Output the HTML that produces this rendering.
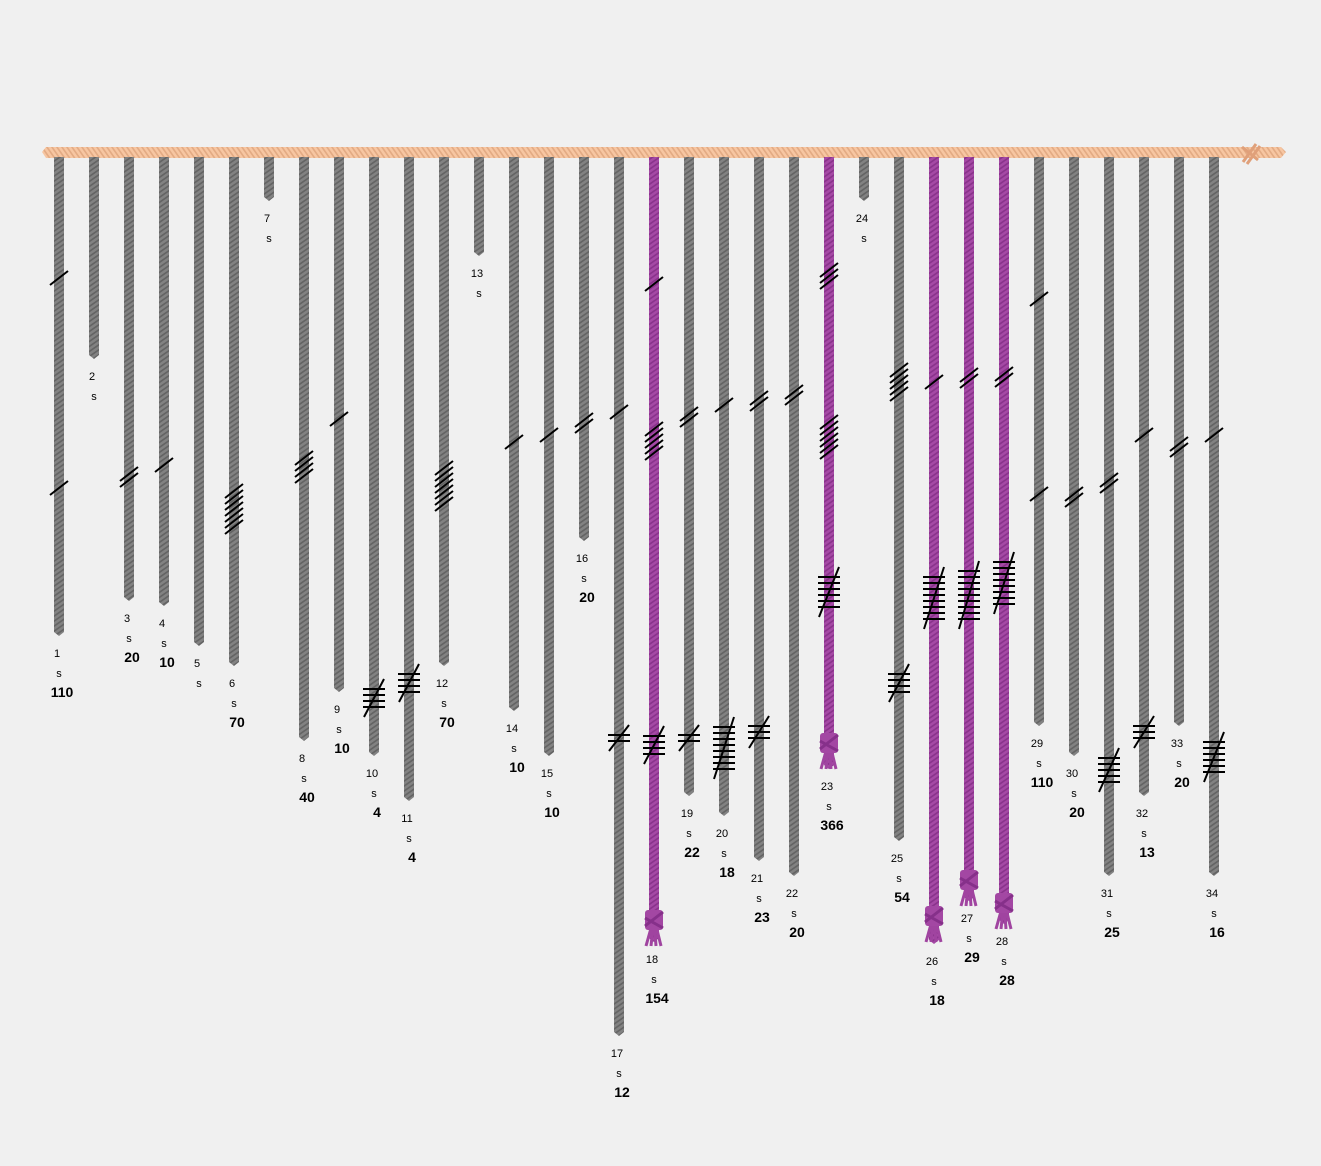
<!DOCTYPE html>
<html><head><meta charset="utf-8">
<style>
html,body{margin:0;padding:0;background:#f0f0f0;}
svg{display:block;font-family:"Liberation Sans",sans-serif;}
</style></head>
<body>
<svg id="chart" width="1321" height="1166" viewBox="0 0 1321 1166">
<defs>
<pattern id="pg" width="10" height="5" patternUnits="userSpaceOnUse" patternTransform="skewY(-35)">
<rect width="10" height="5" fill="#828282"/><rect y="3" width="10" height="2" fill="#646464"/></pattern>
<pattern id="pp" width="10" height="5" patternUnits="userSpaceOnUse" patternTransform="skewY(-35)">
<rect width="10" height="5" fill="#a549a5"/><rect y="3" width="10" height="2" fill="#8a338c"/></pattern>
<pattern id="ps" width="5" height="11" patternUnits="userSpaceOnUse" patternTransform="skewX(35)">
<rect width="5" height="11" fill="#f7c6a2"/><rect x="3" width="2" height="11" fill="#e3ab84"/></pattern>
</defs>
<path d="M42 152 L46 147 H1281 L1286 152 L1281 158 H46 Z" fill="url(#ps)"/>
<g stroke="#e0a07a" stroke-width="3">
<line x1="1243" y1="162" x2="1256" y2="144"/><line x1="1247" y1="164" x2="1260" y2="146"/><line x1="1242" y1="147" x2="1258" y2="160"/></g>
<g id="cords"></g>
</svg>
<script>
// cord end (bottom) positions, colours, values
const cordEnd = [632,355,597,602,642,662,197,737,688,752,797,662,252,707,752,537,1032,938,792,812,857,872,765,197,837,940,897,920,722,752,872,792,722,872];
const cordColor = ['g','g','g','g','g','g','g','g','g','g','g','g','g','g','g','g','g','p','g','g','g','g','p','g','g','p','p','p','g','g','g','g','g','g'];
const cordValue = ['110','','20','10','','70','','40','10','4','4','70','','10','10','20','12','154','22','18','23','20','366','','54','18','29','28','110','20','25','13','20','16'];
// knots: [y, type(s=single,l=long,e=figure-eight), count]
const cordKnots = [
[[278,'s',1],[488,'s',1]],[],[[477,'s',2]],[[465,'s',1]],[],[[509,'s',7]],[],[[467,'s',4]],[[419,'s',1]],[[698,'l',4]],
[[683,'l',4]],[[486,'s',7]],[],[[442,'s',1]],[[435,'s',1]],[[423,'s',2]],[[412,'s',1],[738,'l',2]],
[[284,'s',1],[441,'s',5],[745,'l',4],[922,'e',1]],[[417,'s',2],[738,'l',2]],[[405,'s',1],[748,'l',8]],[[401,'s',2],[732,'l',3]],
[[395,'s',2]],[[276,'s',3],[437,'s',6],[592,'l',6],[745,'e',1]],[],[[382,'s',5],[683,'l',4]],
[[382,'s',1],[598,'l',8],[918,'e',1]],[[378,'s',2],[595,'l',9],[882,'e',1]],[[377,'s',2],[583,'l',8],[905,'e',1]],
[[299,'s',1],[494,'s',1]],[[497,'s',2]],[[483,'s',2],[770,'l',5]],[[435,'s',1],[732,'l',3]],[[447,'s',2]],[[435,'s',1],[757,'l',6]]
];
const NS='http://www.w3.org/2000/svg';
const cordRoot=document.getElementById('cords');
function mk(t,a,p){const e=document.createElementNS(NS,t);for(const k in a)e.setAttribute(k,a[k]);(p||cordRoot).appendChild(e);return e;}
const xOf=i=>59+35*i, cordTop=157;
cordEnd.forEach((end,i)=>{
  const x=xOf(i), purple=cordColor[i]==='p';
  const g=mk('g',{});
  
  
  mk('path',{d:`M${x-5} ${cordTop}H${x+5}V${end}L${x} ${end+4}L${x-5} ${end}Z`,fill:purple?'url(#pp)':'url(#pg)'},g);
  cordKnots[i].forEach(([y,t,c])=>{
    const kg=mk('g',{stroke:'#000','stroke-width':2},g);
    
    
    if(t==='s'){
      for(let k=0;k<c;k++){const yy=y-(c-1)*3+k*6;mk('line',{x1:x-9,y1:yy+7,x2:x+9,y2:yy-7},kg);}
    }else if(t==='l'){
      const h=(c-1)*6;
      for(let k=0;k<c;k++){const yy=y-h/2+k*6;mk('line',{x1:x-11,y1:yy,x2:x+11,y2:yy},kg);}
      mk('line',{x1:x-10,y1:y+h/2+10,x2:x+10,y2:y-h/2-10},kg);
    }else{
      kg.setAttribute('stroke','#a044a0');kg.setAttribute('stroke-width',3);
      [-8,-3,2,7].forEach(d=>mk('line',{x1:x+d*0.3,y1:y+4,x2:x+d,y2:y+24},kg));
      mk('rect',{x:x-9,y:y-12,width:18,height:20,rx:3,fill:'#a347a3',stroke:'none'},kg);
      mk('line',{x1:x-9,y1:y+4,x2:x+9,y2:y-10,stroke:'#86308a'},kg);
      mk('line',{x1:x-9,y1:y-4,x2:x+9,y2:y+6,stroke:'#86308a'},kg);
    }
  });
  const ek=cordKnots[i].find(k=>k[1]==='e');
  const base=ek?Math.max(end,ek[0]+12):end;
  const t1=mk('text',{x:x-2,y:base+25,'font-size':11,'text-anchor':'middle',fill:'#000'},g);t1.textContent=String(i+1);
  
  
  const t2=mk('text',{x:x,y:base+45,'font-size':11,'text-anchor':'middle',fill:'#000'},g);t2.textContent='s';
  
  
  if(cordValue[i]){const t3=mk('text',{x:x+3,y:base+65,'font-size':14,'font-weight':'bold','text-anchor':'middle',fill:'#000'},g);t3.textContent=cordValue[i];
  
  }
});
</script>
</body></html>
